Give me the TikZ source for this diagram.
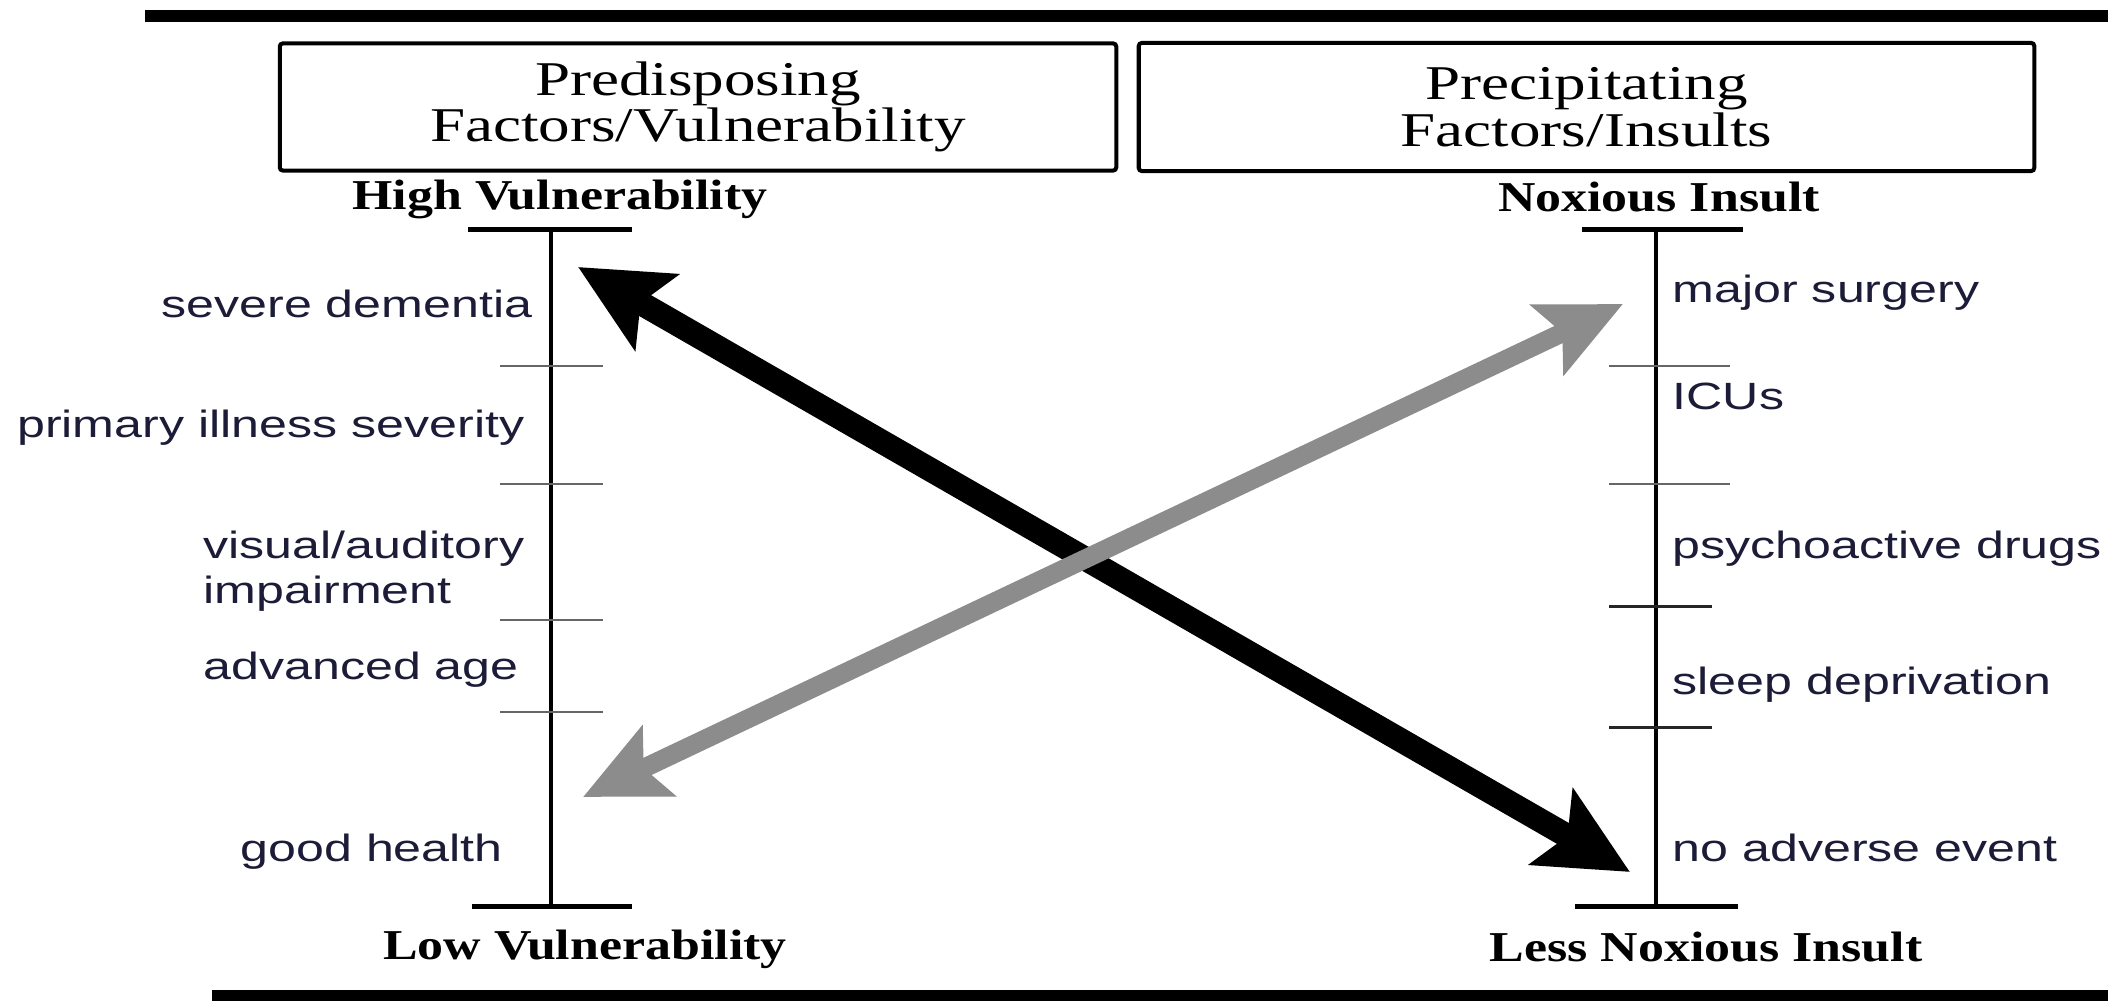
\documentclass[tikz,border=0pt]{standalone}
\usepackage{fontspec}
\usetikzlibrary{arrows.meta}
\newfontfamily\sansf{Liberation Sans}[FakeStretch=1.32]
\newfontfamily\boxf{Liberation Serif}[FakeStretch=1.3]
\newfontfamily\labf{Liberation Serif}[FakeStretch=1.22]
\definecolor{txt}{RGB}{28,28,56}
\definecolor{arrgray}{RGB}{140,140,140}
\begin{document}
\begin{tikzpicture}[x=0.01cm,y=-0.01cm,
  lbl/.style={inner sep=0pt, font=\sansf\fontsize{10.8pt}{13pt}\selectfont, text=txt},
  endlbl/.style={inner sep=0pt, font=\labf\bfseries\fontsize{12.1pt}{14pt}\selectfont, anchor=base},
  hdr/.style={draw, line width=0.4mm, rounded corners=0.3mm, align=center, inner sep=0pt,
              font=\boxf\fontsize{13.8pt}{13.3pt}\selectfont},
  axisline/.style={line width=0.4mm},
  capline/.style={line width=0.5mm},
  tickline/.style={line width=0.2mm, black!60},
  tickdark/.style={line width=0.3mm, black!85},
  bigarrow/.style={line width=2.4mm, {Stealth[length=9mm,width=8.6mm,inset=1.8mm]}-{Stealth[length=9mm,width=8.6mm,inset=1.8mm]}},
  grayarrow/.style={line width=1.9mm, draw=arrgray, fill=arrgray, {Stealth[length=8.3mm,width=7.6mm,inset=1.6mm]}-{Stealth[length=8.3mm,width=7.6mm,inset=1.6mm]}},
  ]
\useasboundingbox (0,0) rectangle (2108,1001);
\fill[white] (0,0) rectangle (2108,1001);
% frame bars
\fill (145,10) rectangle (2108,22);
\fill (212,990) rectangle (2108,1001);
% header boxes
\node[hdr, minimum width=8.36cm, minimum height=1.27cm] (pre) at (698,107) {Predisposing\\Factors/Vulnerability};
\node[hdr, minimum width=8.95cm, minimum height=1.28cm] (prec) at (1586.5,107) {Precipitating\\Factors/Insults};
% end labels
\node[endlbl] (hv) at (560,210) {High Vulnerability};
\node[endlbl] (lv) at (585,960) {Low Vulnerability};
\node[endlbl] (ni) at (1659,212) {Noxious Insult};
\node[endlbl] (lni) at (1706,962) {Less Noxious Insult};
% left axis
\coordinate (lt) at (551,230);
\coordinate (lb) at (551,907);
\coordinate (ltl) at (468,230); \coordinate (ltr) at (632,230);
\coordinate (lbl) at (472,907); \coordinate (lbr) at (632,907);
\draw[axisline] (lt) -- (lb);
\draw[capline] (ltl) -- (ltr);
\draw[capline] (lbl) -- (lbr);
\foreach \yy in {366,484,620,712} \draw[tickline] (500,\yy) -- (603,\yy);
% right axis
\coordinate (rt) at (1656,230);
\coordinate (rb) at (1656,907);
\coordinate (rtl) at (1582,230); \coordinate (rtr) at (1743,230);
\coordinate (rbl) at (1575,907); \coordinate (rbr) at (1738,907);
\draw[axisline] (rt) -- (rb);
\draw[capline] (rtl) -- (rtr);
\draw[capline] (rbl) -- (rbr);
\foreach \yy in {366,484} \draw[tickline] (1609,\yy) -- (1730,\yy);
\foreach \yy in {607,728} \draw[tickdark] (1609,\yy) -- (1712,\yy);
% left labels
\node[lbl, anchor=base east] (sd) at (533,318) {severe dementia};
\node[lbl, anchor=base east] (pis) at (525,438) {primary illness severity};
\node[lbl, anchor=base west] (va) at (203,559) {visual/auditory};
\node[lbl, anchor=base west] (imp) at (203,604) {impairment};
\node[lbl, anchor=base west] (aa) at (203,680) {advanced age};
\node[lbl, anchor=base west] (gh) at (240,862) {good health};
% right labels
\node[lbl, anchor=base west] (ms) at (1672,303) {major surgery};
\node[lbl, anchor=base west] (icu) at (1672,410) {ICUs};
\node[lbl, anchor=base west] (pd) at (1672,559) {psychoactive drugs};
\node[lbl, anchor=base west] (sdp) at (1672,695) {sleep deprivation};
\node[lbl, anchor=base west] (nae) at (1672,862) {no adverse event};
% arrows
\coordinate (bA) at (578,267);
\coordinate (bB) at (1630,872);
\coordinate (gA) at (583,797);
\coordinate (gB) at (1623,304);
\draw[bigarrow] (bA) -- (bB);
\draw[grayarrow] (gA) -- (gB);
\end{tikzpicture}
\end{document}
